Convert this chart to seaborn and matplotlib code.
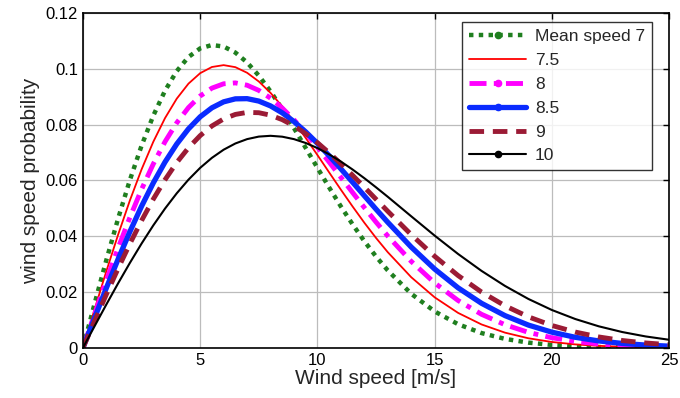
import numpy as np
import pandas as pd
import matplotlib
matplotlib.use("Agg")
import matplotlib.pyplot as plt
from matplotlib.lines import Line2D
import seaborn as sns

# wind speed grid [m/s] (finer where the curves bend the most)
speed = [0, 0.5, 1, 1.5, 2, 2.5, 3, 3.5, 4, 4.5, 5, 5.5, 6, 6.5, 7, 7.5, 8, 8.5,
         9, 9.5, 10, 10.5, 11, 11.5, 12, 12.5, 13, 14, 15, 16, 17, 18, 19, 20,
         21, 22, 23, 24, 25]

# probability values, one list per mean speed
p_7 = [0, 0.01597, 0.03155, 0.04638, 0.06013, 0.07250, 0.08325, 0.09220, 0.09922,
       0.10427, 0.10737, 0.10857, 0.10802, 0.10586, 0.10232, 0.09759, 0.09194,
       0.08558, 0.07877, 0.07168, 0.06454, 0.05750, 0.05070, 0.04427, 0.03825,
       0.03274, 0.02776, 0.01940, 0.01306, 0.00847, 0.00530, 0.00321, 0.00187,
       0.00105, 0.00057, 0.00030, 0.00015, 0.00008, 0.00004]
p_75 = [0, 0.01391, 0.02754, 0.04059, 0.05282, 0.06398, 0.07388, 0.08237, 0.08934,
        0.09472, 0.09848, 0.10069, 0.10136, 0.10063, 0.09862, 0.09549, 0.09141,
        0.08656, 0.08111, 0.07525, 0.06913, 0.06290, 0.05671, 0.05068, 0.04487,
        0.03940, 0.03430, 0.02533, 0.01811, 0.01253, 0.00839, 0.00545, 0.00343,
        0.00210, 0.00124, 0.00071, 0.00040, 0.00022, 0.00011]
p_8 = [0, 0.01223, 0.02424, 0.03581, 0.04673, 0.05683, 0.06593, 0.07391, 0.08067,
       0.08614, 0.09030, 0.09312, 0.09467, 0.09499, 0.09416, 0.09230, 0.08952,
       0.08596, 0.08175, 0.07703, 0.07194, 0.06661, 0.06115, 0.05569, 0.05030,
       0.04508, 0.04010, 0.03101, 0.02327, 0.01697, 0.01202, 0.00829, 0.00555,
       0.00362, 0.00230, 0.00142, 0.00086, 0.00050, 0.00029]
p_85 = [0, 0.01084, 0.02151, 0.03182, 0.04163, 0.05078, 0.05914, 0.06661, 0.07308,
        0.07850, 0.08284, 0.08606, 0.08820, 0.08927, 0.08934, 0.08847, 0.08674,
        0.08425, 0.08112, 0.07743, 0.07331, 0.06886, 0.06418, 0.05938, 0.05453,
        0.04971, 0.04502, 0.03614, 0.02825, 0.02152, 0.01597, 0.01156, 0.00816,
        0.00562, 0.00378, 0.00248, 0.00159, 0.00100, 0.00061]
p_9 = [0, 0.00967, 0.01921, 0.02846, 0.03731, 0.04563, 0.05332, 0.06027, 0.06643,
       0.07171, 0.07610, 0.07955, 0.08207, 0.08369, 0.08441, 0.08430, 0.08341,
       0.08181, 0.07958, 0.07679, 0.07355, 0.06991, 0.06599, 0.06186, 0.05760,
       0.05328, 0.04897, 0.04059, 0.03283, 0.02592, 0.02000, 0.01508, 0.01112,
       0.00802, 0.00566, 0.00391, 0.00264, 0.00175, 0.00113]
p_10 = [0, 0.00784, 0.01559, 0.02315, 0.03044, 0.03739, 0.04391, 0.04993, 0.05541,
        0.06029, 0.06454, 0.06812, 0.07104, 0.07327, 0.07483, 0.07574, 0.07602,
        0.07570, 0.07483, 0.07345, 0.07162, 0.06938, 0.06680, 0.06393, 0.06083,
        0.05755, 0.05416, 0.04717, 0.04024, 0.03365, 0.02759, 0.02220, 0.01752,
        0.01357, 0.01033, 0.00772, 0.00567, 0.00409, 0.00290]

labels = ["Mean speed 7", "7.5", "8", "8.5", "9", "10"]
series = [p_7, p_75, p_8, p_85, p_9, p_10]

# line styles (colour, width, dash pattern, legend marker)
styles = [
    ("#1f7f1f", 3.2, (0, (1.0, 1.2)), "."),
    ("#ff0000", 1.3, "-", None),
    ("#ff00ff", 3.5, (0, (3.5, 1.5, 1.0, 1.5)), "."),
    ("#0a2bff", 3.8, "-", "."),
    ("#9b1b35", 3.5, (0, (3.0, 1.8)), None),
    ("#000000", 1.5, "-", "."),
]

sns.set_style("white")
plt.rcParams["font.family"] = ["Liberation Sans", "DejaVu Sans"]

fig = plt.figure(figsize=(6.8, 3.98), dpi=100)
ax = fig.add_axes([0.122, 0.126, 0.862, 0.841])

handles = []
for lab, vals, (col, lw, ls, mk) in zip(labels, series, styles):
    df = pd.DataFrame({"speed": speed, "prob": vals})
    sns.lineplot(data=df, x="speed", y="prob", ax=ax, color=col, lw=lw,
                 linestyle=ls, dash_capstyle="butt")
    handles.append(Line2D([], [], color=col, lw=lw, linestyle=ls, marker=mk,
                          markersize=9, dash_capstyle="butt"))

ax.set_xlim(0, 25)
ax.set_ylim(0, 0.12)
ax.set_xticks([0, 5, 10, 15, 20, 25])
ax.set_yticks([0, 0.02, 0.04, 0.06, 0.08, 0.1, 0.12])
ax.set_yticklabels(["0", "0.02", "0.04", "0.06", "0.08", "0.1", "0.12"])
ax.grid(True, color="#bcbcbc", lw=0.9)
ax.tick_params(direction="in", top=True, right=True, length=4, width=1,
               labelsize=12, colors="black")
for sp in ax.spines.values():
    sp.set_color("black")
    sp.set_linewidth(1.2)

ax.set_xlabel("Wind speed [m/s]", fontsize=15, labelpad=1)
ax.set_ylabel("wind speed probability", fontsize=15, labelpad=4)

leg = ax.legend(handles, labels, loc="upper right", fontsize=12.5,
                frameon=True, fancybox=False, numpoints=1, handlelength=3.3,
                borderpad=0.4, labelspacing=0.5, handletextpad=0.5,
                borderaxespad=0, bbox_to_anchor=(0.971, 0.973))
leg.get_frame().set_edgecolor("black")
leg.get_frame().set_linewidth(1.0)

fig.savefig("out.png", dpi=100, facecolor="white")
